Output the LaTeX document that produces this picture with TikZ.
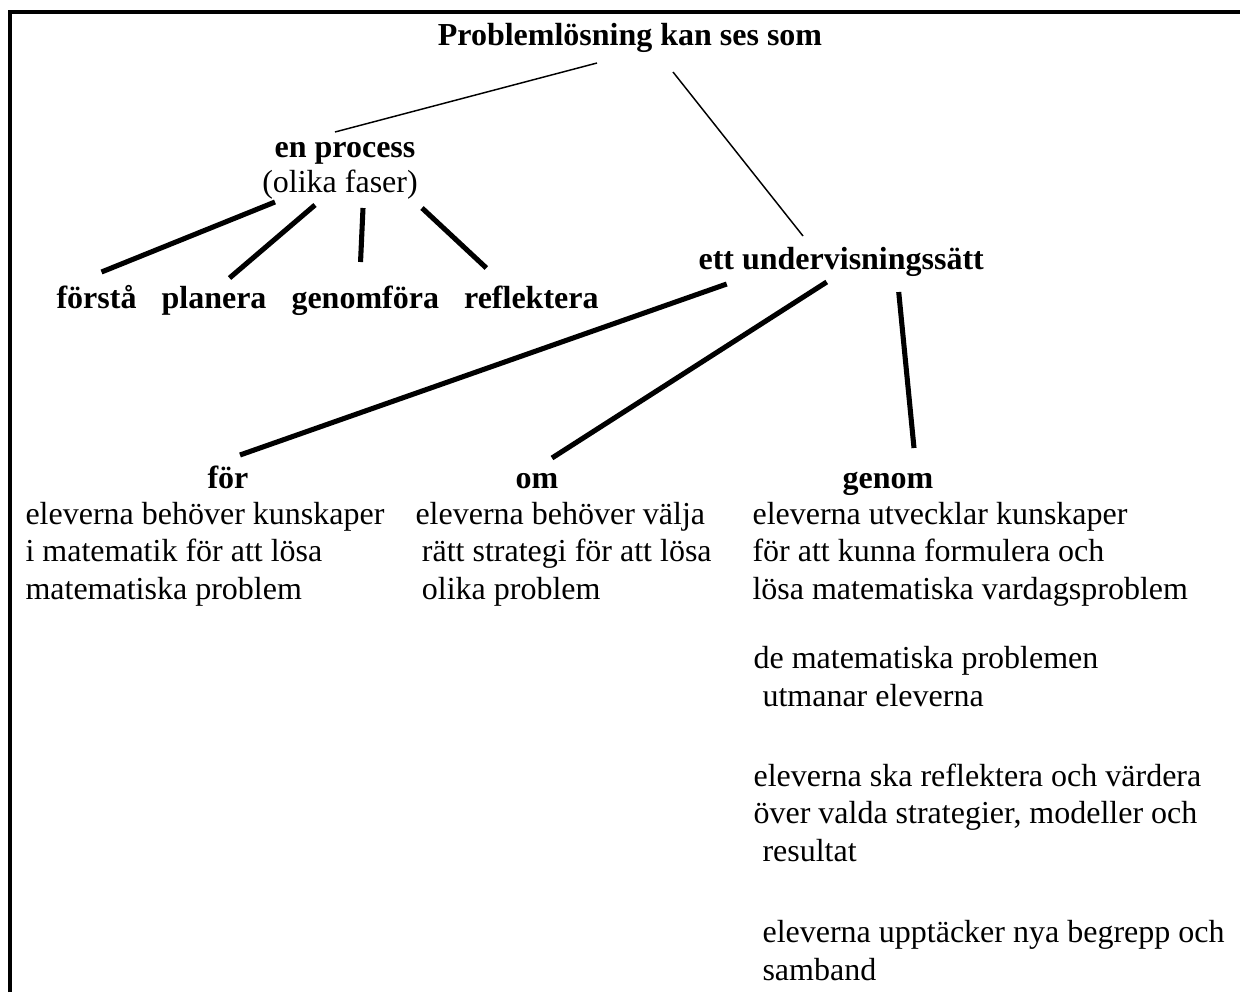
\documentclass[tikz,border=0pt]{standalone}
\usepackage{fontspec}
\setmainfont{Liberation Serif}
\usepackage{tikz}
\usetikzlibrary{positioning, calc}

\begin{document}
\begin{tikzpicture}[
x=0.375pt, y=-0.375pt,
node distance=9pt,
every node/.style={inner sep=0pt, font=\fontsize{12}{13.9}\selectfont},
head/.style={font=\fontsize{12}{13.9}\selectfont\bfseries},
txt/.style={align=left, anchor=base west},
thinline/.style={line width=0.55pt},
thickline/.style={line width=1.9pt},
frameline/.style={line width=1.5pt}
]
    \useasboundingbox (0,0) rectangle (1240,992);
    \draw[frameline] (10,992) -- (10,12) -- (1240,12);

    \node[head, anchor=base] (title) at (630,45) {Problemlösning kan ses som};
    \node[head, anchor=base] (proc) at (345,157) {en process};
    \node[anchor=base] (faser) at (340,192) {(olika faser)};
    \node[head, anchor=base west] (forsta) at (56,308) {förstå};
    \node[head, base right=of forsta] (planera) {planera};
    \node[head, base right=of planera] (genomfora) {genomföra};
    \node[head, base right=of genomfora] (reflektera) {reflektera};
    \node[head, anchor=base west] (ett) at (698,269) {ett undervisningssätt};

    \node[head, anchor=base] (for) at (228,488) {för};
    \node[head, anchor=base] (om) at (537,488) {om};
    \node[head, anchor=base] (genom) at (888,488) {genom};

    % base anchor of a multi-line node is the last baseline
    \node[txt] (fortext) at (25,599) {eleverna behöver kunskaper\\i matematik för att lösa\\matematiska problem};
    \node[txt] (omtext) at (415,599) {eleverna behöver välja\\\hspace*{0.2em}rätt strategi för att lösa\\\hspace*{0.2em}olika problem};
    \node[txt] (genomtext) at (752,599) {eleverna utvecklar kunskaper\\för att kunna formulera och\\lösa matematiska vardagsproblem};
    \node[txt] (utmanar) at (753,706) {de matematiska problemen\\\hspace*{0.28em}utmanar eleverna};
    \node[txt] (reflekt) at (753,861) {eleverna ska reflektera och värdera\\över valda strategier, modeller och\\\hspace*{0.28em}resultat};
    \node[txt] (upptack) at (762,980) {eleverna upptäcker nya begrepp och\\samband};

    \draw[thinline] ($(title.base)+(-33,18)$) -- ($(proc.base)+(-10,-25)$);
    \draw[thinline] ($(title.base)+(43,27)$) -- ($(ett.base west)+(105,-33)$);

    \draw[thickline] ($(faser.base)+(-65,10)$) -- ($(forsta.base)+(5,-36)$);
    \draw[thickline] ($(faser.base)+(-25,13)$) -- ($(planera.base)+(15.5,-30)$);
    \draw[thickline] ($(faser.base)+(23,16)$) -- ($(genomfora.base)+(-4.75,-46)$);
    \draw[thickline] ($(faser.base)+(82,16)$) -- ($(reflektera.base)+(-45,-40)$);

    \draw[thickline] ($(ett.base)+(-114.5,15)$) -- ($(for.base)+(12,-33)$);
    \draw[thickline] ($(ett.base)+(-14.5,13)$) -- ($(om.base)+(15,-30)$);
    \draw[thickline] ($(ett.base)+(57.5,23)$) -- ($(genom.base)+(26,-40)$);

\end{tikzpicture}
\end{document}
